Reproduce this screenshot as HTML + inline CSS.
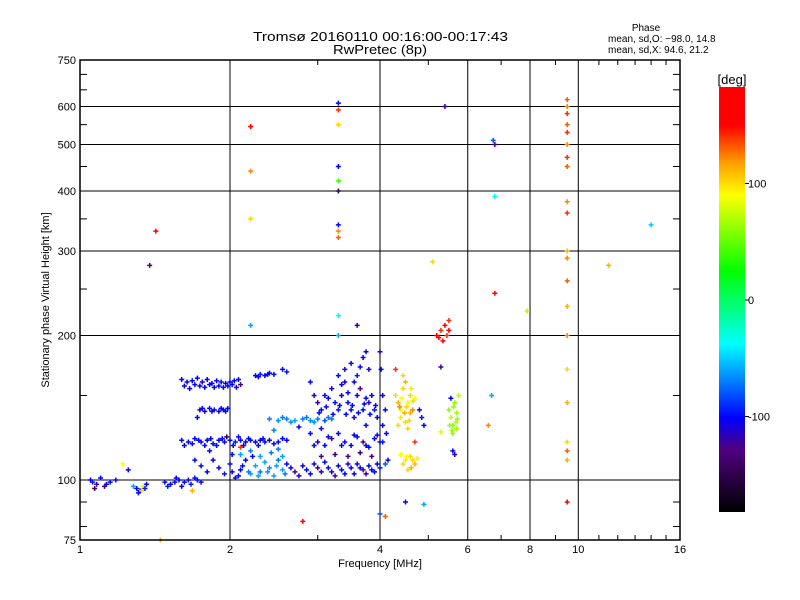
<!DOCTYPE html>
<html><head><meta charset="utf-8"><style>
html,body{margin:0;padding:0;background:#fff;}
svg{display:block;font-family:"Liberation Sans",sans-serif;}
</style></head><body>
<svg id="chart" width="800" height="600" xmlns="http://www.w3.org/2000/svg">
<rect width="800" height="600" fill="#fff"/>
<text x="253" y="41" font-size="13" textLength="255" lengthAdjust="spacingAndGlyphs">Tromsø 20160110 00:16:00-00:17:43</text>
<text x="333" y="54" font-size="13" textLength="94" lengthAdjust="spacingAndGlyphs">RwPretec (8p)</text>
<text x="646" y="31" font-size="10" text-anchor="middle">Phase</text>
<text x="608" y="42" font-size="10">mean, sd,O: −98.0, 14.8</text>
<text x="608" y="53" font-size="10">mean, sd,X:  94.6, 21.2</text>
<g id="grid"></g>
<g id="marks"></g>
<rect x="80" y="60" width="600" height="480" fill="none" stroke="#000" stroke-width="1.5"/>
<g id="axes"></g>
<text x="380" y="567" font-size="11" text-anchor="middle">Frequency [MHz]</text>
<text transform="translate(49,300) rotate(-90)" font-size="11" text-anchor="middle">Stationary phase Virtual Height [km]</text>
<defs><linearGradient id="cbg" x1="0" y1="1" x2="0" y2="0">
<stop offset="0" stop-color="#000"/><stop offset="0.147" stop-color="#500080"/><stop offset="0.222" stop-color="#0000ff"/><stop offset="0.395" stop-color="#00ffff"/><stop offset="0.566" stop-color="#00ff00"/><stop offset="0.746" stop-color="#ffff00"/><stop offset="0.82" stop-color="#ffa000"/><stop offset="0.91" stop-color="#ff0000"/><stop offset="1" stop-color="#ff0000"/>
</linearGradient></defs>
<rect x="719" y="87" width="26" height="425" fill="url(#cbg)"/>
<text x="732" y="84" font-size="13" text-anchor="middle">[deg]</text>
<g id="cbticks"></g>
</svg>
<script>
const xTicks=[1,2,4,6,8,10,16];
const yTicks=[75,100,200,300,400,500,600,750];
const cbTicks=[100,0,-100];
// [freq MHz, height km, phase deg]
const freqs=[], heights=[], phases=[];
const pts=[
[1.05,100,-105],[1.08,98,-120],[1.1,101,-100],[1.12,97,-130],[1.15,99,-100],[1.18,100,-100],[1.07,96,-140],[1.06,99,-95],[1.13,98,-100],
[1.3,96,-100],[1.32,95,-95],[1.34,97,80],[1.33,95,100],[1.28,97,-60],[1.36,98,-100],[1.22,108,90],[1.25,105,-100],[1.31,94,-100],[1.35,96,-95],
[1.48,99,-100],[1.52,98,-100],[1.55,99,-105],[1.58,100,-100],[1.62,99,-100],[1.65,100,-110],[1.7,101,-100],[1.75,99,-100],[1.45,75,110],[1.5,97,-95],[1.56,101,-100],[1.6,97,-100],[1.67,98,-95],[1.72,100,-100],[1.68,95,110],
[1.6,162,-100],[1.64,160,-105],[1.68,161,-100],[1.72,163,-100],[1.76,160,-110],[1.8,162,-100],[1.84,159,-100],[1.88,161,-105],[1.92,160,-100],[1.96,159,-110],[2.0,160,-100],[2.04,161,-100],[2.08,162,-100],[1.66,155,-100],[1.74,157,-105],[1.86,156,-100],[1.98,157,-100],[2.1,158,-130],[1.62,157,-100],[1.7,158,-100],[1.78,156,-100],[1.82,158,-100],[1.9,157,-100],[1.94,156,-100],[2.02,158,-100],[2.06,156,-100],
[1.74,140,-100],[1.78,139,-110],[1.82,141,-100],[1.86,140,-100],[1.9,139,-105],[1.94,140,-100],[1.98,141,-100],[1.72,135,-100],[1.76,141,-100],[1.84,139,-100],[1.92,141,-100],[1.96,139,-100],
[1.6,121,-100],[1.65,120,-100],[1.7,122,-100],[1.75,120,-110],[1.8,121,-100],[1.85,119,-100],[1.9,121,-100],[1.95,120,-105],[2.0,121,-100],[2.05,120,-95],[2.1,121,-100],[2.15,120,-110],[2.2,121,-100],[2.25,120,-100],[2.3,121,-100],[2.35,120,-100],[2.4,121,-105],[2.5,120,-100],[2.6,121,-100],[1.97,123,-150],[2.1,117,140],[1.62,118,-100],[1.68,119,-100],[1.73,121,-100],[1.78,118,-100],[1.83,122,-100],[1.88,118,-100],[1.93,122,-100],[2.03,118,-100],[2.08,123,-100],[2.13,118,-100],[2.18,122,-100],[2.28,118,-100],[2.33,122,-100],[2.45,119,-100],[2.55,122,-100],
[1.7,110,-100],[1.75,107,-100],[1.8,104,-100],[1.85,110,-105],[1.9,106,-100],[1.95,103,-95],[2.0,108,-100],[2.05,101,-110],[2.1,105,-100],[2.15,110,-100],[2.2,103,-60],[2.25,107,-60],[2.3,104,-70],[2.35,109,-60],[2.4,106,-65],[2.45,102,-60],[2.5,110,-70],[2.55,105,-60],[2.6,108,-100],[2.7,104,-130],[2.8,107,-110],[2.9,103,-100],[3.0,106,-130],[3.1,109,-100],[3.2,104,-110],[3.3,107,-100],[3.4,103,-100],[3.5,106,-105],[3.6,108,-100],[3.7,105,-130],[3.8,107,-100],[3.9,104,-100],[4.0,106,-95],[1.82,115,-100],[2.02,113,-100],[2.22,112,-100],[2.42,114,-70],
[2.02,104,-100],[2.08,102,-100],[2.12,107,-100],[2.18,104,-70],[2.28,102,-60],[2.38,104,-65],[2.48,107,-60],[2.58,103,-70],[2.65,106,-100],[2.75,102,-110],[2.85,105,-100],[2.95,108,-100],[3.05,104,-110],[3.15,106,-100],[3.25,102,-120],[3.35,105,-100],[3.45,108,-110],[3.55,103,-100],[3.65,106,-100],[3.75,103,-110],[3.85,105,-100],[3.95,108,-100],
[2.25,165,-100],[2.3,166,-95],[2.35,165,-100],[2.4,167,-105],[2.45,166,-100],[2.55,170,-100],[2.6,168,-95],[2.28,164,-100],[2.38,166,-100],
[2.4,134,-70],[2.5,133,-65],[2.6,134,-70],[2.7,133,-60],[2.8,134,-70],[2.9,133,-65],[3.0,134,-70],[3.1,133,-80],[3.2,134,-70],[2.45,127,-70],[2.75,129,-100],[3.05,128,-110],[2.55,135,-70],[2.65,132,-65],[2.85,135,-70],[2.95,132,-65],[3.15,135,-70],
[2.1,113,-60],[2.2,115,-70],[2.3,112,-60],[2.5,116,-70],[2.55,112,-60],
[2.9,160,-100],[2.95,150,-110],[3.0,145,-130],[3.05,140,-100],[3.1,150,-100],[3.2,155,-110],[3.25,145,-100],[3.3,140,-95],[3.35,150,-100],[3.4,160,-110],[3.45,145,-100],[3.5,140,-100],[3.55,135,-110],[3.6,150,-100],[3.65,155,-130],[3.7,140,-100],[3.75,130,-100],[3.8,145,-110],[3.85,150,-100],[3.9,140,-95],[3.95,135,-100],[3.3,165,-100],[3.4,170,-110],[3.5,175,-100],[3.6,165,-95],[3.7,180,-100],[3.8,170,-110],
[3.02,138,-100],[3.12,142,-100],[3.22,137,-100],[3.32,143,-100],[3.42,137,-100],[3.52,143,-100],[3.62,138,-100],[3.72,144,-100],[3.82,137,-100],[3.92,143,-100],[3.15,148,-100],[3.45,152,-100],[3.75,148,-100],[3.55,160,-100],[3.65,172,-100],[3.35,158,-100],
[2.9,125,-100],[3.0,120,-110],[3.1,118,-100],[3.2,122,-130],[3.3,125,-100],[3.4,120,-100],[3.5,118,-110],[3.6,123,-100],[3.7,120,-130],[3.8,117,-100],[3.9,122,-100],[4.0,120,-110],[3.05,112,-130],[3.25,113,-140],[3.45,112,-130],[3.65,114,-140],[3.85,112,-130],[2.95,118,-100],[3.15,123,-100],[3.35,118,-100],[3.55,124,-100],[3.75,118,-100],[3.95,124,-100],
[4.05,150,-100],[4.1,140,-100],[4.05,120,-95],[4.1,108,-80],[4.15,110,-100],[4.0,185,-110],[4.02,170,-100],[4.05,130,-100],[4.12,125,-100],
[4.3,150,100],[4.35,145,110],[4.4,140,90],[4.45,155,100],[4.5,160,110],[4.55,145,90],[4.6,150,100],[4.65,140,120],[4.4,135,95],[4.5,132,100],[4.6,138,110],[4.35,130,100],[4.7,148,90],[4.45,165,100],[4.55,128,100],[4.5,110,95],[4.6,112,100],[4.7,108,110],[4.4,113,90],[4.55,105,100],[4.3,170,140],[4.7,120,140],[4.8,140,-100],[4.9,130,-100],[4.85,135,-95],
[4.42,148,90],[4.52,142,100],[4.62,155,95],[4.48,138,110],[4.58,133,100],[4.38,142,120],[4.66,146,100],[4.45,108,100],[4.52,112,90],[4.65,110,100],[4.75,111,95],[4.62,106,110],
[5.5,140,60],[5.55,135,70],[5.6,130,55],[5.65,145,60],[5.7,138,65],[5.75,150,70],[5.6,125,60],[5.7,128,65],[5.55,148,-100],[5.6,115,-100],[5.65,113,-110],[5.3,126,80],[5.62,142,60],[5.72,134,60],[5.58,127,65],[5.68,132,70],[5.52,130,60],
[5.2,200,150],[5.3,205,140],[5.4,210,150],[5.5,215,140],[5.35,195,160],[5.45,200,140],[5.5,205,150],[5.25,198,170],
[9.5,90,160],[9.5,110,110],[9.5,115,130],[9.5,120,100],[9.5,145,110],[9.5,170,100],[9.5,200,120],[9.5,230,110],[9.5,260,130],[9.5,290,120],[9.5,300,110],[9.5,360,140],[9.5,380,120],[9.5,450,130],[9.5,470,140],[9.5,500,120],[9.5,530,140],[9.5,550,130],[9.5,580,140],[9.5,600,120],[9.5,620,130],
[3.3,200,-60],[3.3,220,-40],[3.3,320,130],[3.3,330,120],[3.3,340,-100],[3.3,400,-150],[3.3,420,40],[3.3,450,-100],[3.3,550,100],[3.3,590,140],[3.3,610,-100],
[2.2,210,-60],[2.2,350,100],[2.2,440,120],[2.2,545,150],[1.42,330,160],[1.38,280,-130],[2.8,82,160],[5.1,285,100],[6.8,245,150],[6.8,390,-40],[6.8,500,-130],[6.75,510,-80],[5.4,600,-120],[7.9,225,70],[11.5,280,110],[14,340,-50],[6.7,150,-60],[4.0,85,-80],[4.1,84,130],[4.5,90,-100],[4.9,89,-60],[6.6,130,120],[5.3,172,-120],[3.75,185,-100],[3.6,210,-110]
];
pts.forEach(p=>{freqs.push(p[0]);heights.push(p[1]);phases.push(p[2]);});
const X0=80,X1=680,Y0=540,Y1=60;
function xs(f){return X0+(X1-X0)*Math.log2(f)/4;}
function ys(h){return Y0-(Y0-Y1)*Math.log10(h/75);}
const cStops=[[-181,[0,0,0]],[-128,[80,0,128]],[-101,[0,0,255]],[-38,[0,255,255]],[24,[0,255,0]],[89,[255,255,0]],[115,[255,160,0]],[150,[255,0,0]],[182,[255,0,0]]];
function col(v){v=Math.max(-181,Math.min(182,v));for(let i=1;i<cStops.length;i++){if(v<=cStops[i][0]){const a=cStops[i-1],b=cStops[i],t=(v-a[0])/(b[0]-a[0]);const c=a[1].map((q,k)=>Math.round(q+(b[1][k]-q)*t));return `rgb(${c})`;}}return 'red';}
function cbY(v){return 300-v*116.5/100;}
const NS='http://www.w3.org/2000/svg';
function mk(t,a,parent){const e=document.createElementNS(NS,t);for(const k in a)e.setAttribute(k,a[k]);parent.appendChild(e);return e;}
const grid=document.getElementById('grid'),axes=document.getElementById('axes'),marks=document.getElementById('marks'),cbt=document.getElementById('cbticks');
xTicks.forEach(f=>{const x=xs(f);
 if(f>1&&f<16){const l=mk('line',{x1:x,y1:Y1,x2:x,y2:Y0,stroke:'#000','stroke-width':1},grid);
 
 }
 const t=mk('text',{x:x,y:553,'font-size':11,'text-anchor':'middle'},axes);t.textContent=f;
 
 
});
yTicks.forEach(h=>{const y=ys(h);
 if(h>75&&h<750){const l=mk('line',{x1:X0,y1:y,x2:X1,y2:y,stroke:'#000','stroke-width':1},grid);
 
 }
 const t=mk('text',{x:76,y:y+4,'font-size':11,'text-anchor':'end'},axes);t.textContent=h;
 
 
});
[3,5,7,9,11,12,13,14,15].forEach(f=>{const x=xs(f);mk('line',{x1:x,y1:Y0,x2:x,y2:Y0-5,stroke:'#000'},axes);mk('line',{x1:x,y1:Y1,x2:x,y2:Y1+5,stroke:'#000'},axes);});
[80,90,150,250,350,450,550,650,700].forEach(h=>{const y=ys(h);mk('line',{x1:X0,y1:y,x2:X0+7,y2:y,stroke:'#000'},axes);mk('line',{x1:X1,y1:y,x2:X1-7,y2:y,stroke:'#000'},axes);});
for(let i=0;i<freqs.length;i++){const x=xs(freqs[i]),y=ys(heights[i]);
 const p=mk('path',{d:`M${x-2.5},${y}h5M${x},${y-2.5}v5`,stroke:col(phases[i]),'stroke-width':1.5},marks);
 
 
}
cbTicks.forEach(v=>{const y=cbY(v);mk('line',{x1:745,y1:y,x2:749,y2:y,stroke:'#000'},cbt);
 const t=mk('text',{x:748,y:y+4,'font-size':11},cbt);t.textContent=v;
 
 
});
</script>
</body></html>
